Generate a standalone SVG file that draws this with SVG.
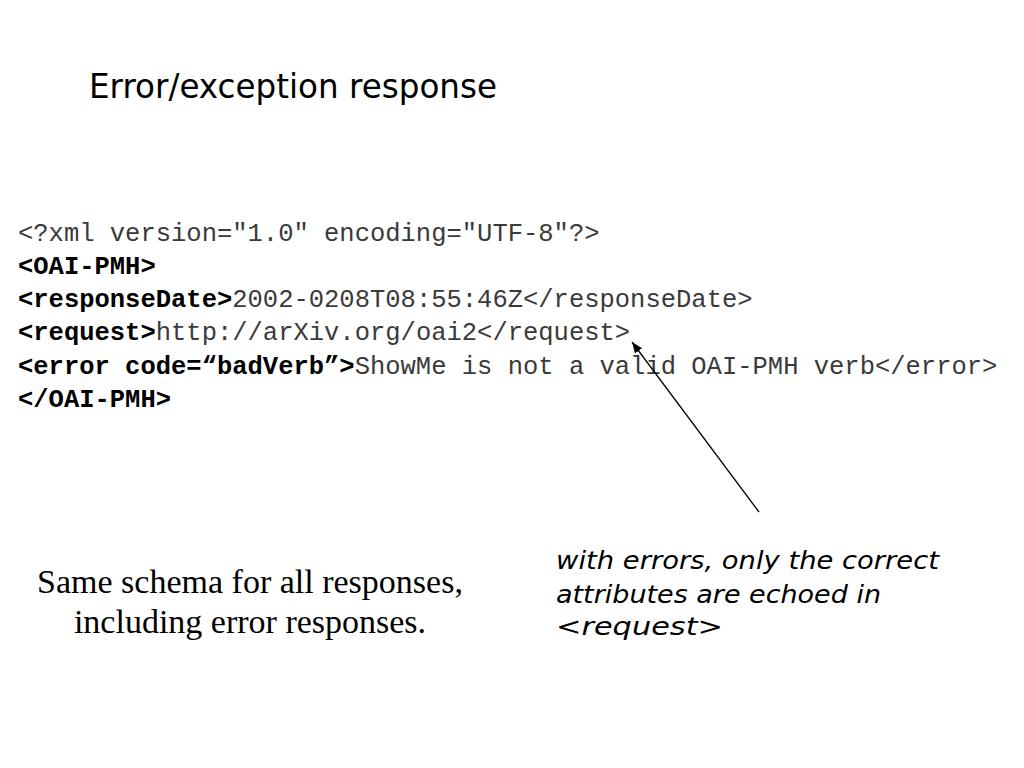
<svg xmlns="http://www.w3.org/2000/svg" width="1024" height="768" viewBox="0 0 1024 768">
<defs>
<style>
.title{font-family:"DejaVu Sans","Noto Sans",sans-serif;font-size:34px;fill:#000}
.code{font-family:"Liberation Mono","Courier New",monospace;font-size:25.5px;fill:#3a3a3a}
.b{font-weight:bold;fill:#000}
.note{font-family:"DejaVu Sans","Noto Sans",sans-serif;font-style:italic;font-size:25px;fill:#000}
.serif{font-family:"Liberation Serif","Times New Roman",serif;font-size:34px;fill:#000;text-anchor:middle}
.conn{stroke:#000;stroke-width:1.3;fill:none}
</style>
<marker id="arr" viewBox="0 0 10 10" refX="10" refY="5" markerWidth="11" markerHeight="11" markerUnits="userSpaceOnUse" orient="auto">
<path d="M0,1 L10,5 L0,9 z" fill="#000"/>
</marker>
</defs>
<rect width="1024" height="768" fill="#fff"/>
<g id="title">
<text class="title" x="89" y="98" textLength="408" lengthAdjust="spacingAndGlyphs">Error/exception response</text>
</g>
<g id="code">
<text class="code" x="18" y="241">&lt;?xml version="1.0" encoding="UTF-8"?&gt;</text>
<text class="code b" x="18" y="274">&lt;OAI-PMH&gt;</text>
<text class="code" x="18" y="307"><tspan class="b">&lt;responseDate&gt;</tspan>2002-0208T08:55:46Z&lt;/responseDate&gt;</text>
<text class="code" x="18" y="340"><tspan class="b">&lt;request&gt;</tspan>http://arXiv.org/oai2&lt;/request&gt;</text>
<text class="code" x="18" y="374"><tspan class="b">&lt;error code=“badVerb”&gt;</tspan>ShowMe is not a valid OAI-PMH verb&lt;/error&gt;</text>
<text class="code b" x="18" y="407">&lt;/OAI-PMH&gt;</text>
</g>
<g id="connectors">
<line class="conn" x1="759" y1="512" x2="632" y2="342" marker-end="url(#arr)"/>
</g>
<g id="note">
<text class="note" x="556" y="569" textLength="383" lengthAdjust="spacingAndGlyphs">with errors, only the correct</text>
<text class="note" x="556" y="603" textLength="325" lengthAdjust="spacingAndGlyphs">attributes are echoed in</text>
<text class="note" x="556" y="635" textLength="167" lengthAdjust="spacingAndGlyphs">&lt;request&gt;</text>
</g>
<g id="summary">
<text class="serif" x="250" y="593">Same schema for all responses,</text>
<text class="serif" x="250" y="633">including error responses.</text>
</g>
</svg>
